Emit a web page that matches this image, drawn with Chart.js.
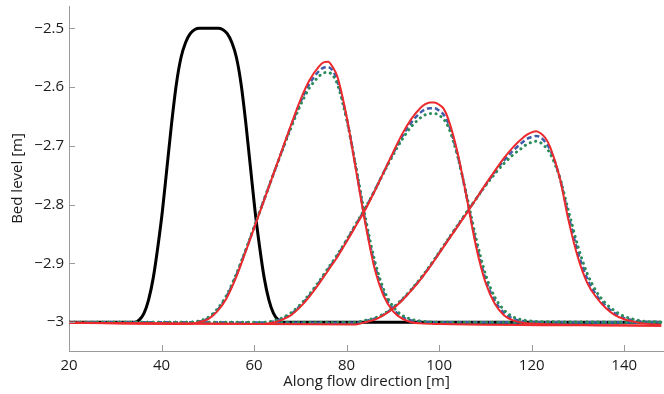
<!DOCTYPE html>
<html>
<head>
<meta charset="utf-8">
<script src="https://cdn.jsdelivr.net/npm/chart.js@4.4.0/dist/chart.umd.min.js"></script>
<style>
  html, body { margin: 0; padding: 0; background: #fff; }
  #wrap { width: 664px; height: 394px; }
</style>
</head>
<body>
<div id="wrap"><canvas id="bedChart" width="664" height="394"></canvas></div>
<script>
// Axis ticks
const xTicks = [20, 40, 60, 80, 100, 120, 140];
const yTicks = [-3, -2.9, -2.8, -2.7, -2.6, -2.5];

// Initial hump
const xInit = [20, 34.2, 35.2, 36.2, 37.2, 38.2, 39.2, 40.2, 41.2, 42.2, 43.2, 44.2, 45.2, 46.2, 47.2, 48.2, 52.2, 53.2, 54.2, 55.2, 56.2, 57.2, 58.2, 59.2, 60.2, 61.2, 62.2, 63.2, 64.2, 65.2, 66.2, 148];
const yInit = [-3, -3, -2.996, -2.985, -2.962, -2.925, -2.872, -2.81, -2.735, -2.66, -2.595, -2.55, -2.524, -2.509, -2.502, -2.5, -2.5, -2.502, -2.509, -2.524, -2.55, -2.595, -2.66, -2.735, -2.81, -2.872, -2.925, -2.962, -2.985, -2.996, -3, -3];

// First snapshot
const x1 = [20, 46, 48, 50, 52, 54, 56, 58, 60, 62, 64, 66, 68, 70, 72, 74, 75, 76, 77, 78, 80, 82, 84, 86, 88, 90, 92, 94, 96, 100, 148];
const red1 = [-3.001, -3.003, -3.0, -2.995, -2.982, -2.96, -2.926, -2.884, -2.84, -2.796, -2.752, -2.708, -2.664, -2.622, -2.588, -2.565, -2.558, -2.557, -2.566, -2.582, -2.65, -2.74, -2.83, -2.907, -2.955, -2.981, -2.994, -3.0, -3.002, -3.003, -3.006];
const blue1 = [-3.0, -3.001, -2.999, -2.994, -2.98, -2.957, -2.923, -2.882, -2.839, -2.795, -2.752, -2.709, -2.666, -2.626, -2.594, -2.573, -2.567, -2.566, -2.572, -2.589, -2.652, -2.737, -2.826, -2.9, -2.95, -2.977, -2.991, -2.997, -2.999, -3.0, -3.0];
const green1 = [-3.0, -3.0, -2.998, -2.992, -2.978, -2.955, -2.921, -2.881, -2.838, -2.795, -2.752, -2.71, -2.669, -2.631, -2.601, -2.582, -2.576, -2.575, -2.58, -2.595, -2.655, -2.735, -2.82, -2.893, -2.944, -2.973, -2.988, -2.995, -2.998, -3.0, -3.0];

// Second snapshot
const x2 = [20, 62, 64, 66, 68, 70, 72, 74, 76, 78, 80, 82, 84, 86, 88, 90, 92, 94, 96, 97, 98, 99, 100, 101, 102, 104, 106, 108, 110, 112, 114, 116, 118, 122, 148];
const red2 = [-3.001, -3.003, -3.001, -2.996, -2.988, -2.974, -2.956, -2.935, -2.912, -2.889, -2.863, -2.836, -2.809, -2.778, -2.745, -2.712, -2.68, -2.654, -2.635, -2.629, -2.626, -2.626, -2.63, -2.637, -2.655, -2.712, -2.79, -2.872, -2.932, -2.968, -2.988, -2.997, -3.001, -3.003, -3.006];
const blue2 = [-3.0, -3.001, -2.999, -2.994, -2.986, -2.972, -2.954, -2.933, -2.91, -2.887, -2.861, -2.834, -2.807, -2.777, -2.745, -2.714, -2.684, -2.66, -2.643, -2.638, -2.636, -2.636, -2.64, -2.647, -2.662, -2.716, -2.789, -2.866, -2.926, -2.963, -2.984, -2.994, -2.998, -3.0, -3.0];
const green2 = [-3.0, -3.0, -2.998, -2.993, -2.984, -2.97, -2.952, -2.931, -2.908, -2.885, -2.86, -2.833, -2.806, -2.777, -2.746, -2.716, -2.689, -2.667, -2.652, -2.647, -2.645, -2.645, -2.648, -2.655, -2.668, -2.718, -2.786, -2.858, -2.918, -2.957, -2.979, -2.991, -2.996, -2.999, -3.0];

// Third snapshot
const x3 = [20, 82, 84, 86, 88, 90, 92, 94, 96, 98, 100, 102, 104, 106, 108, 110, 112, 114, 116, 118, 119, 120, 121, 122, 123, 124, 126, 128, 130, 132, 134, 136, 138, 140, 142, 144, 148];
const red3 = [-3.001, -3.004, -3.0, -2.996, -2.988, -2.977, -2.963, -2.946, -2.927, -2.906, -2.883, -2.86, -2.837, -2.814, -2.79, -2.766, -2.743, -2.721, -2.702, -2.687, -2.681, -2.677, -2.675, -2.679, -2.687, -2.702, -2.752, -2.828, -2.89, -2.933, -2.958, -2.976, -2.988, -2.995, -2.999, -3.002, -3.005];
const blue3 = [-3.0, -3.001, -2.998, -2.994, -2.987, -2.976, -2.962, -2.945, -2.926, -2.905, -2.882, -2.859, -2.836, -2.813, -2.79, -2.767, -2.745, -2.725, -2.708, -2.694, -2.688, -2.685, -2.683, -2.686, -2.694, -2.707, -2.752, -2.82, -2.881, -2.926, -2.954, -2.972, -2.985, -2.993, -2.997, -2.999, -3.0];
const green3 = [-3.0, -3.0, -2.997, -2.993, -2.986, -2.975, -2.961, -2.944, -2.925, -2.904, -2.881, -2.858, -2.835, -2.812, -2.79, -2.768, -2.748, -2.73, -2.715, -2.703, -2.697, -2.694, -2.692, -2.695, -2.702, -2.713, -2.752, -2.812, -2.871, -2.917, -2.948, -2.968, -2.981, -2.99, -2.995, -2.998, -3.0];

const RED = '#ec2a2e';
const BLUE = '#3d5ca9';
const GREEN = '#2a8c5a';
const AXIS = '#9a9a9a';
const FONT = "'Open Sans', 'DejaVu Sans', sans-serif";

function pts(xs, ys) {
    return xs.map((x, i) => ({ x: x, y: ys[i] }));
}

function solid(xs, ys, color, width, order) {
    return { data: pts(xs, ys), borderColor: color, borderWidth: width, order: order };
}
function dashed(xs, ys) {
    return { data: pts(xs, ys), borderColor: BLUE, borderWidth: 2.5, borderDash: [5, 3], order: 3 };
}
function dotted(xs, ys) {
    return { data: pts(xs, ys), borderColor: GREEN, borderWidth: 3, borderDash: [0.1, 5.5], borderCapStyle: 'round', order: 2 };
}

// MATLAB-style ticks pointing into the plot
const inwardTicks = {
    id: 'inwardTicks',
    afterDraw(chart) {
        const { ctx, chartArea, scales } = chart;
        ctx.save();
        ctx.strokeStyle = AXIS;
        ctx.lineWidth = 1;
        ctx.beginPath();
        xTicks.forEach(v => {
            const px = Math.round(scales.x.getPixelForValue(v)) + 0.5;
            ctx.moveTo(px, chartArea.bottom);
            ctx.lineTo(px, chartArea.bottom - 6);
        });
        yTicks.forEach(v => {
            const py = Math.round(scales.y.getPixelForValue(v)) + 0.5;
            ctx.moveTo(chartArea.left, py);
            ctx.lineTo(chartArea.left + 6, py);
        });
        ctx.stroke();
        ctx.restore();
    }
};

const ctx = document.getElementById('bedChart').getContext('2d');
new Chart(ctx, {
    type: 'line',
    data: {
        datasets: [
            solid(x1, red1, RED, 2, 1),
            solid(x2, red2, RED, 2, 1),
            solid(x3, red3, RED, 2, 1),
            dotted(x1, green1),
            dotted(x2, green2),
            dotted(x3, green3),
            dashed(x1, blue1),
            dashed(x2, blue2),
            dashed(x3, blue3),
            solid(xInit, yInit, '#000000', 3, 4)
        ]
    },
    options: {
        responsive: false,
        animation: false,
        devicePixelRatio: 1,
        layout: { padding: { top: 6, right: 0, bottom: 0, left: 0 } },
        elements: {
            point: { radius: 0 },
            line: { cubicInterpolationMode: 'monotone', fill: false }
        },
        plugins: {
            legend: { display: false },
            tooltip: { enabled: false }
        },
        scales: {
            x: {
                type: 'linear',
                min: 20,
                max: 148.6,
                grid: { display: false, drawTicks: false },
                border: { display: true, color: AXIS, width: 1 },
                afterBuildTicks: s => { s.ticks = xTicks.map(v => ({ value: v })); },
                afterFit: s => { s.height = 43; s.paddingLeft = 0; s.paddingRight = 0; },
                ticks: { color: '#1a1a1a', padding: 6, font: { family: FONT, size: 15 }, maxRotation: 0 },
                title: { display: true, text: 'Along flow direction [m]', color: '#1a1a1a', padding: { top: 0, bottom: 3 }, font: { family: FONT, size: 15 } }
            },
            y: {
                type: 'linear',
                min: -3.049,
                max: -2.462,
                grid: { display: false, drawTicks: false },
                border: { display: true, color: AXIS, width: 1 },
                afterBuildTicks: s => { s.ticks = yTicks.map(v => ({ value: v })); },
                afterFit: s => { s.width = 69; s.paddingTop = 0; s.paddingBottom = 0; },
                ticks: {
                    color: '#1a1a1a',
                    padding: 5,
                    font: { family: FONT, size: 15 },
                    callback: v => String(parseFloat(v.toFixed(1))).replace('-', '\u2212')
                },
                title: { display: true, text: 'Bed level [m]', color: '#1a1a1a', padding: { top: 9, bottom: 0 }, font: { family: FONT, size: 15 } }
            }
        }
    },
    plugins: [inwardTicks]
});
</script>
</body>
</html>
